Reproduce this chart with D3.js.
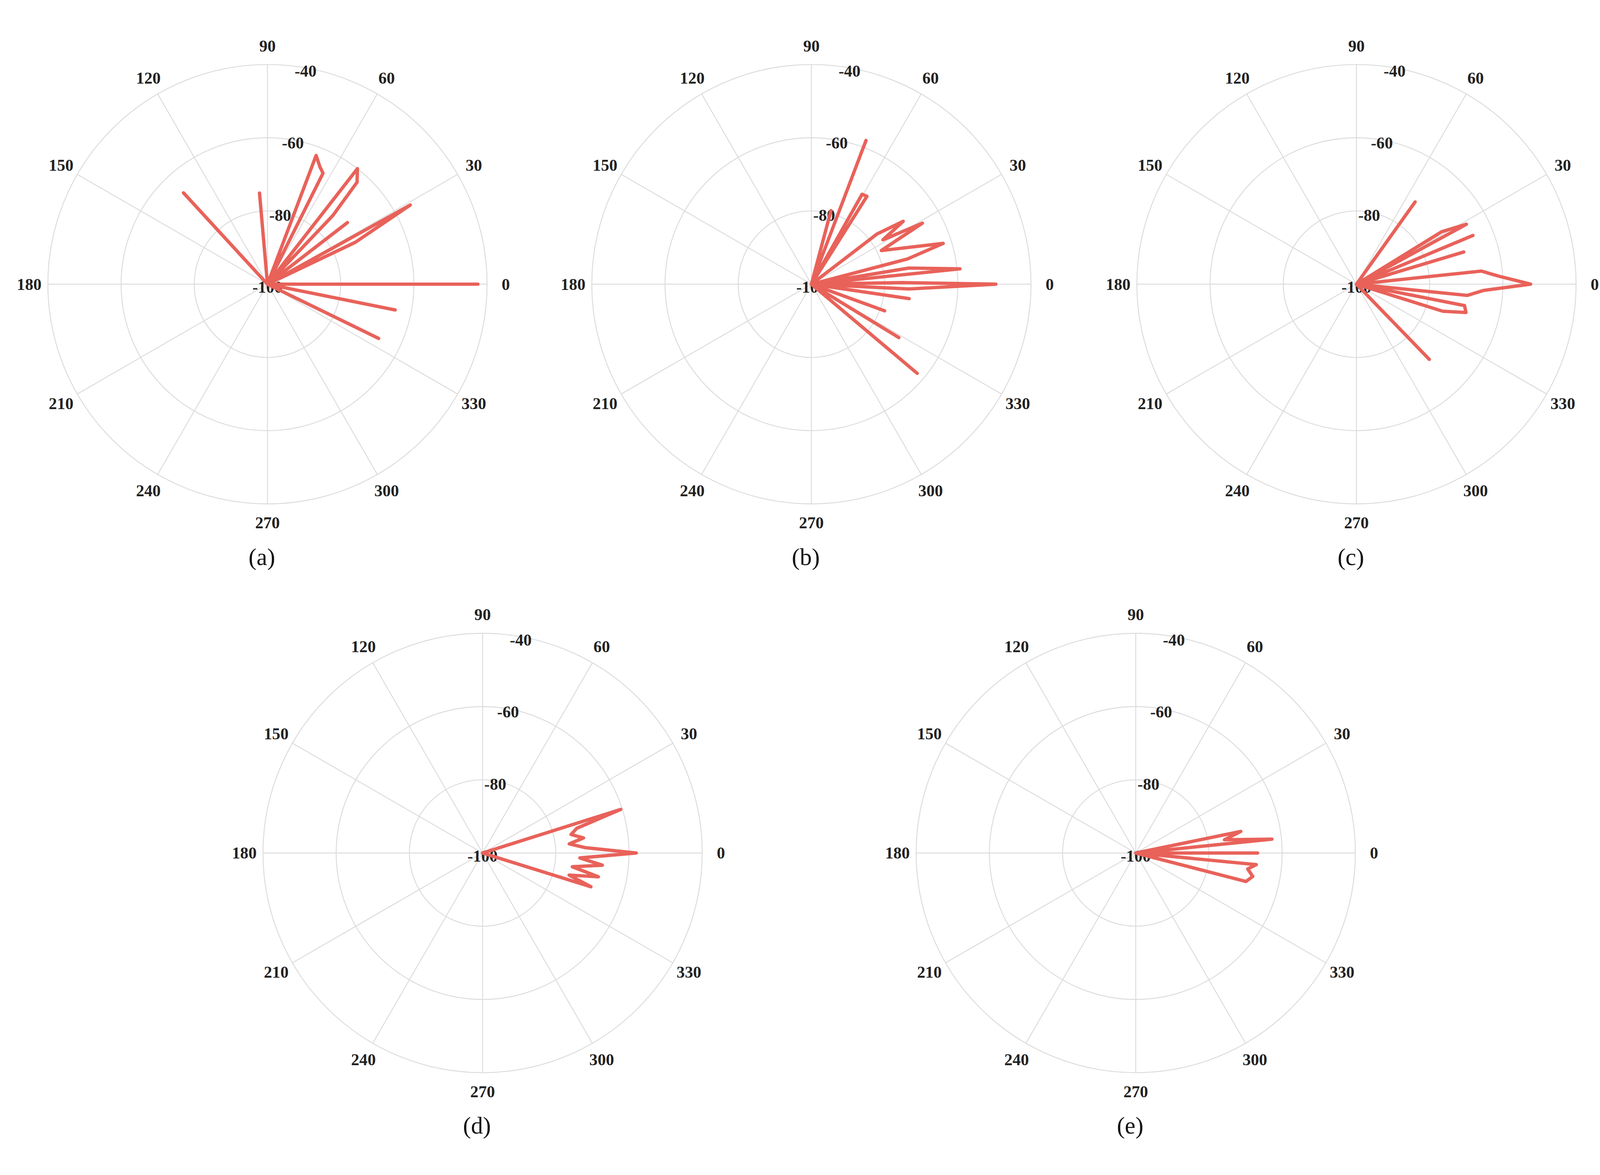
<!DOCTYPE html>
<html><head><meta charset="utf-8">
<script src="https://cdn.jsdelivr.net/npm/d3@7"></script>
<style>html,body{margin:0;padding:0;background:#fff;overflow:hidden}svg{display:block}</style>
</head><body>
<script>
const panelNames = ["(a)","(b)","(c)","(d)","(e)"];
const angleTicks = [0,30,60,90,120,150,180,210,240,270,300,330];
const radialTicks = [-100,-80,-60,-40];
// [angle deg, dB] in path order
const seriesA = [[330,-100],[334,-66.2],[340,-100],[348.6,-64.4],[355,-100],[0,-42.5],[10,-100],[25.5,-73.4],[29,-55.4],[30,-100],[37.6,-72.4],[42,-100],[46.4,-74.1],[48.7,-62.9],[52.1,-60],[58,-100],[63.4,-66.1],[65.9,-64.9],[69.3,-62.4],[75,-100],[95,-75],[100,-100],[132.6,-66.1],[135,-100]];
const seriesB = [[315,-100],[319.9,-62.2],[325,-100],[328.6,-72],[335,-100],[340,-78.7],[345,-100],[351.6,-73],[355,-100],[357.2,-73.3],[0,-49.6],[1,-75],[3,-100],[5.9,-59.2],[9.4,-73],[12,-100],[14.7,-72.9],[17.2,-62.3],[25.7,-78.8],[28.8,-65.4],[31.8,-77],[34.4,-69.6],[37.4,-77.4],[45,-100],[57.7,-71.6],[60.6,-71.8],[63,-100],[69.2,-58],[72,-100],[75.1,-79.2],[78,-100]];
const seriesC = [[310,-100],[314.1,-71.4],[320,-100],[342.6,-75.3],[345.5,-69.1],[348.8,-69.9],[350,-100],[354.2,-69.6],[357.2,-65.2],[0,-52.4],[3.2,-61],[6,-65.7],[8,-100],[16.7,-69.4],[18,-100],[22.7,-65.5],[24,-100],[28.6,-65.8],[31.6,-72.6],[35,-100],[54.5,-72.4],[57,-100]];
const seriesD = [[340,-100],[342.7,-69],[345.7,-75.6],[348.4,-67.7],[351.3,-75.2],[354.2,-67.1],[357.1,-73.4],[0,-58],[3,-71.9],[6,-76.2],[8.5,-72.1],[11.8,-75.3],[14.7,-73.4],[17.5,-60.4],[20,-100]];
const seriesE = [[343,-100],[345.5,-68.9],[348.7,-67.4],[351.9,-69.1],[354.5,-66.9],[357,-100],[0,-66.7],[3,-100],[5.8,-62.6],[8.5,-75.5],[11.6,-70.7],[14,-100]];
const allSeries = [seriesA,seriesB,seriesC,seriesD,seriesE];

const W=4277,H=3007;
const centers=[[715,693],[2169,693],[3626,693],[1290,2213],[3036,2213]];
const R=587;
const svg=d3.select("body").append("svg")
  .attr("width",window.innerWidth).attr("height",window.innerHeight)
  .attr("viewBox",`0 0 ${W} ${H}`).attr("preserveAspectRatio","xMidYMid meet");
const r=d3.scaleLinear().domain([-100,-40]).range([0,R]);
const toRad=d=>(90-d)*Math.PI/180;
const line=d3.lineRadial().angle(d=>toRad(d[0])).radius(d=>r(d[1]));
const font="'Liberation Serif', 'DejaVu Serif', serif";

allSeries.forEach((s,i)=>{
  const [cx,cy]=centers[i];
  const g=svg.append("g").attr("transform",`translate(${cx},${cy})`);
  radialTicks.filter(v=>v>-100).forEach(v=>g.append("circle").attr("r",r(v)).attr("fill","none").attr("stroke","#dcdcdc").attr("stroke-width",2.5));
  angleTicks.forEach(a=>{
    const t=a*Math.PI/180;
    g.append("line").attr("x1",0).attr("y1",0).attr("x2",R*Math.cos(t)).attr("y2",-R*Math.sin(t)).attr("stroke","#dcdcdc").attr("stroke-width",2.5);
    const lr=R+50;
    g.append("text").attr("x",lr*Math.cos(t)).attr("y",-lr*Math.sin(t)).attr("text-anchor","middle").attr("dominant-baseline","central")
      .attr("font-family",font).attr("font-weight","bold").attr("font-size",44).attr("fill","#222").text(a);
  });
  radialTicks.forEach(v=>{
    const t=80*Math.PI/180, rr=r(v);
    g.append("text").attr("x",rr*Math.cos(t)).attr("y",-rr*Math.sin(t)+8).attr("text-anchor","middle").attr("dominant-baseline","central")
      .attr("font-family",font).attr("font-weight","bold").attr("font-size",44).attr("fill","#222").text(v);
  });
  g.append("path").attr("d",line(s)).attr("fill","none").attr("stroke","#E8625A").attr("stroke-width",9).attr("stroke-linejoin","round").attr("stroke-linecap","round");
  svg.append("text").attr("x",cx-15).attr("y",cy+750).attr("text-anchor","middle").attr("font-family",font).attr("font-size",64).attr("fill","#111").text(panelNames[i]);
});
</script>
</body></html>
